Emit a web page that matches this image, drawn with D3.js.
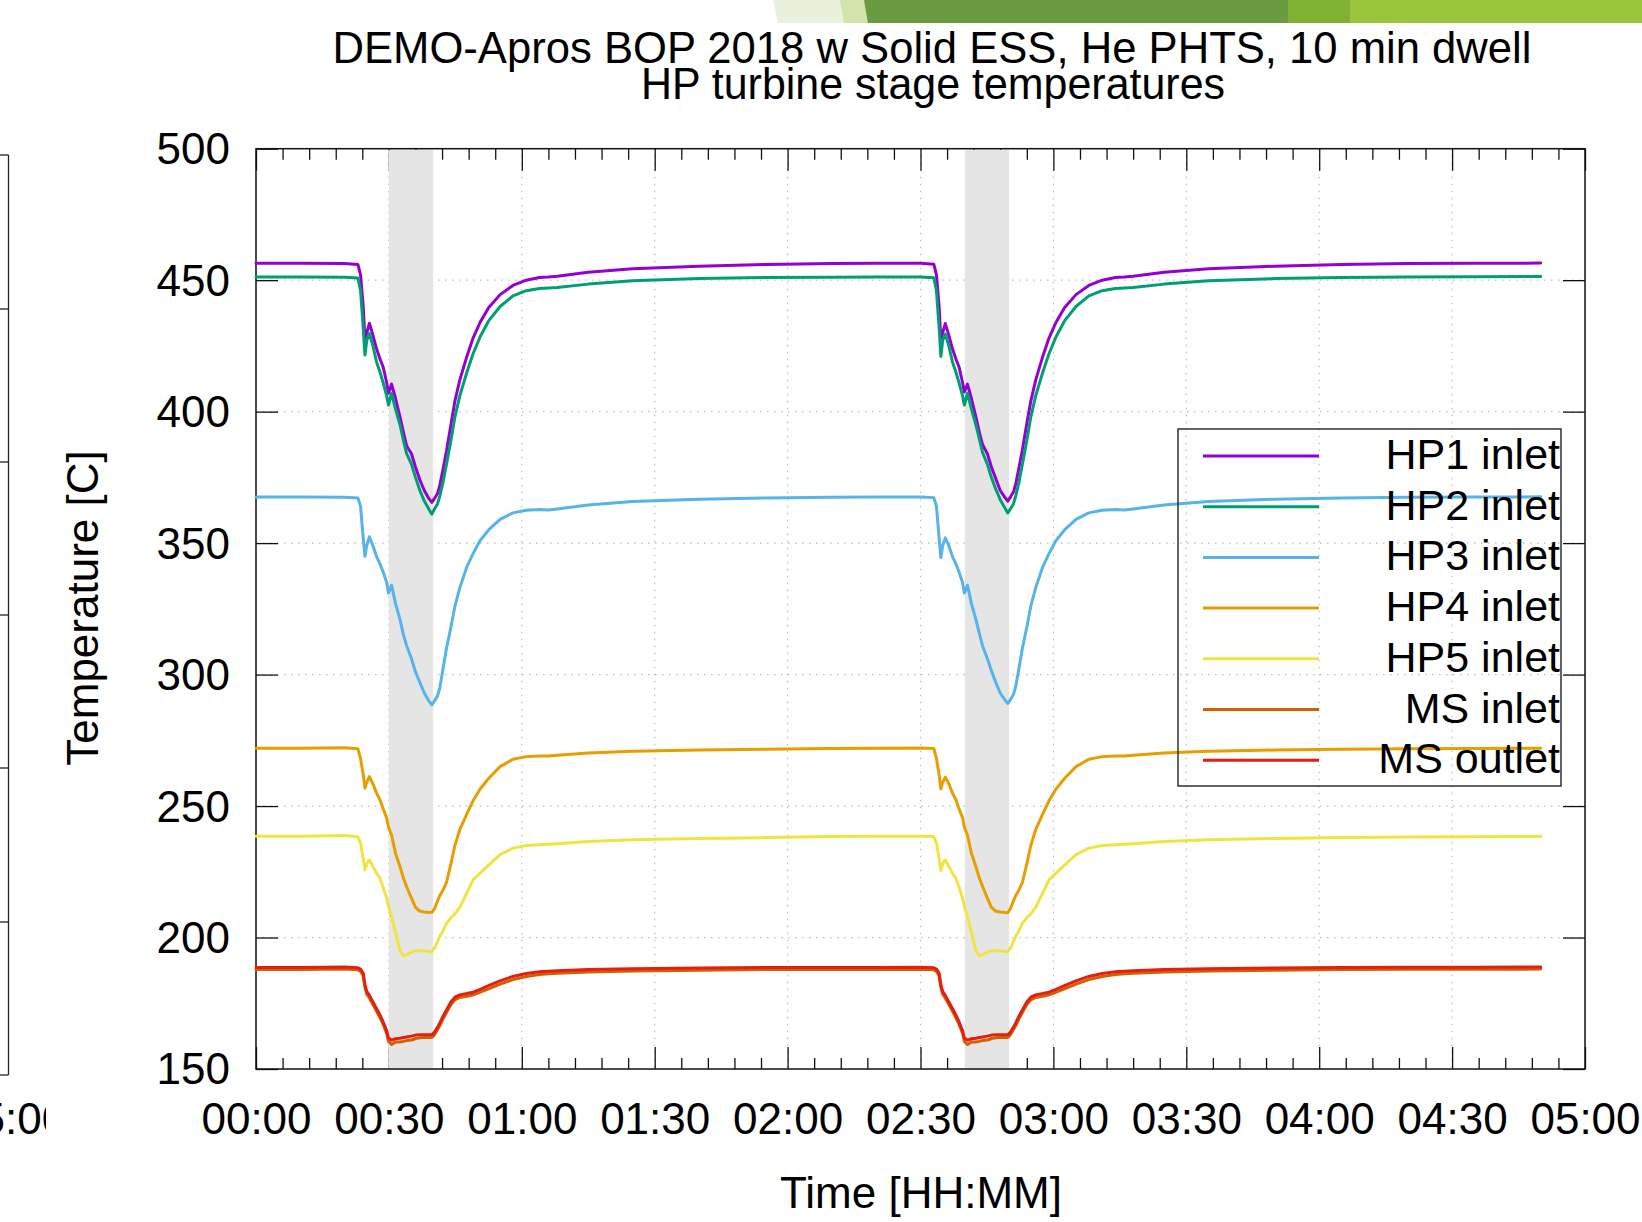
<!DOCTYPE html>
<html><head><meta charset="utf-8">
<script src="https://cdn.jsdelivr.net/npm/d3@7/dist/d3.min.js"></script>
<style>
body{margin:0;background:#fff;}
svg{display:block;}
text{font-family:"Liberation Sans",Arial,Helvetica,sans-serif;fill:#000;}
</style>
</head><body>
<svg id="chart" width="1642" height="1222"></svg>
<script>
// ---------------- DATA ----------------
const timeMin = [
 0,10,20,23,23.6,24.2,24.6,25.0,25.6,26.4,27.2,28.0,28.7,29.5,29.9,30.6,31.5,32.5,33.3,34.0,35.1,36.0,37.0,38.0,
 39.0,39.7,40.3,41.0,41.5,42.2,43.0,44.0,44.9,46.0,47.6,49.0,50.6,52.5,55.1,58,61,64,66,68,75,85,100,115,
 130,140,150,153,153.6,154.2,154.6,155.0,155.6,156.4,157.2,158.0,158.7,159.5,159.9,160.6,161.5,162.5,163.3,164.0,165.1,166.0,167.0,168.0,
 169.0,169.7,170.3,171.0,171.5,172.2,173.0,174.0,174.9,176.0,177.6,179.0,180.6,182.5,185.1,188,191,194,196,198,205,215,230,245,260,275,290
];
const hp1Inlet = [
 456.4,456.4,456.3,456.0,452,440,427,430,433.6,429,424,420,417,411,407,410.5,405,398,392,387,384,379,374,370,
 367,365.5,367,369,372,378,385,395,404,412,421,428,434,439.5,444.5,448,450,451,451.2,451.5,453,454.3,455.3,456,
 456.3,456.4,456.4,456.1,452,440,427,430,433.5,429,424,420,417,411,407.5,410.5,405,398,392,387.5,384,379,374.5,370,
 367.5,366,367.5,369.5,372.5,378.5,385.5,395.5,404,412,421,428,434,439.5,444.5,448,450,451,451.2,451.5,453,454.3,455.3,456,456.3,456.4,456.5
];
const hp2Inlet = [
 451.2,451.2,451.1,450.8,446,432,421.5,427,429.8,425,419,415,411,406,402.5,407,401,395,389,384,380,375,370,366,
 363,361,363,365,368,373,380,389,398,406,415,422,428.5,434.5,440,444,446,446.8,447,447.2,448.5,449.8,450.6,451,
 451.1,451.2,451.2,450.9,446,432,421,427,429.5,425,419,415,411,406,402.5,407,401,395,389.5,384.5,380,375,370.5,366.5,
 363.5,361.5,363,365,368,373,380,389,398,406,415,422,428.5,434.5,440,444,446,446.8,447,447.2,448.5,449.8,450.6,451,451.2,451.3,451.4
];
const hp3Inlet = [
 367.5,367.5,367.4,367.2,364,352,345,349,352.4,349,345,342,339,335,331,334,327,321,315,311,306,301,297,293,
 290,288.5,290,292,295,302,310,318,326,333,341,346,351,355,359,361.5,362.5,362.8,362.6,363,364.5,365.8,366.7,367.2,
 367.4,367.5,367.5,367.3,364,352,344.5,349,352,349,345,342,339,335,331,334,327,321,315.5,311,306,301.5,297,293,
 290.5,289,290.5,292.5,295.5,302,310,318,326,333,341,346,351,355,359,361.5,362.5,362.8,362.6,363,364.5,365.8,366.7,367.2,367.4,367.5,367.6
];
const hp4Inlet = [
 272,272,272.2,271.8,268,262,256.8,259,261.2,258.5,255,252.3,249,245.5,242,239,232,227,222.5,219.3,215,211.5,210,209.7,
 209.5,209.6,211,214,216,218,221,228,235,241,247,252,256.5,260.5,265,267.8,268.8,269,269,269.3,270.2,270.8,271.3,271.6,
 271.9,272,272.1,271.9,268,262,256.5,259,261,258.5,255,252.3,249,245.5,242,239,232,227,222.5,219.5,215,211.5,210,209.7,
 209.5,209.4,211,214,216,218,221,228,235,241,247,252,256.5,260.5,265,267.8,268.8,269,269,269.3,270.2,270.8,271.3,271.6,271.8,271.9,272
];
const hp5Inlet = [
 238.5,238.5,238.8,238.3,236,230,225.7,228,229.5,227,224.5,222.5,219,215,212,208,202,195,193,193.5,194.5,195,195,195,
 194.7,194.6,196,198.5,200.5,202.5,205.4,207.5,209,211.5,217,221.9,224.5,227.5,231.5,234,235,235.3,235.5,235.7,236.5,237.2,237.7,238,
 238.4,238.5,238.5,238.4,236,230,225.5,228,229.5,227,224.5,222.5,219,215,212,208,202,195,193,193.5,194.5,195,195,195,
 194.7,194.6,196,198.5,200.5,202.5,205.4,207.5,209,211.5,217,221.9,224.5,227.5,231.5,234,235,235.3,235.5,235.7,236.5,237.2,237.7,238,238.2,238.3,238.4
];
const msInlet = [
 187.8,187.8,188,187.7,187.2,185.5,181,178.5,177,174.5,172,169.5,167,163.5,160.5,159.3,160.3,160.3,160.5,160.8,161,161.6,161.9,162,
 162,162,163,165,166.5,169,171.5,174.5,176.3,177.2,177.7,178.2,179.2,180.5,182.3,184,185.2,185.9,186.2,186.4,186.9,187.3,187.6,187.8,
 187.8,187.8,187.9,187.7,187.2,185.5,181,178.5,177,174.5,172,169.5,167,163.5,160.5,159.3,160.3,160.3,160.5,160.8,161,161.6,161.9,162,
 162,162,163,165,166.5,169,171.5,174.5,176.3,177.2,177.7,178.2,179.2,180.5,182.3,184,185.2,185.9,186.2,186.4,186.9,187.3,187.6,187.8,187.9,187.9,188
];
const msOutlet = [
 188.6,188.6,188.8,188.5,188,186.5,182,179.5,178,175.5,173,170.5,168,164.5,161.8,161,161.5,161.7,162,162.2,162.5,162.9,163,163,
 163,163,164,166,167.5,170,172.5,175.5,177.3,178.2,178.7,179.2,180.3,181.7,183.5,185.2,186.3,187,187.2,187.4,187.8,188.1,188.4,188.6,
 188.6,188.6,188.7,188.5,188,186.5,182,179.5,178,175.5,173,170.5,168,164.5,161.8,161,161.5,161.7,162,162.2,162.5,162.9,163,163,
 163,163,164,166,167.5,170,172.5,175.5,177.3,178.2,178.7,179.2,180.3,181.7,183.5,185.2,186.3,187,187.2,187.4,187.8,188.1,188.4,188.6,188.7,188.7,188.8
];
const seriesNames  = ["HP1 inlet","HP2 inlet","HP3 inlet","HP4 inlet","HP5 inlet","MS inlet","MS outlet"];
const seriesValues = [hp1Inlet,hp2Inlet,hp3Inlet,hp4Inlet,hp5Inlet,msInlet,msOutlet];
const seriesColors = ["#9400d3","#009e73","#56b4e9","#e69f00","#f0e442","#d55e00","#e51e10"];
const dwellStart = [30,160];
const dwellEnd   = [40,170];
const xTickValues = [0,30,60,90,120,150,180,210,240,270,300];
const xTickLabels = ["00:00","00:30","01:00","01:30","02:00","02:30","03:00","03:30","04:00","04:30","05:00"];
const yTickValues = [150,200,250,300,350,400,450,500];
const titleLines = ["DEMO-Apros BOP 2018 w Solid ESS, He PHTS, 10 min dwell","HP turbine stage temperatures"];
const xAxisTitle = "Time [HH:MM]";
const yAxisTitle = "Temperature [C]";

// ---------------- LAYOUT ----------------
const svg = d3.select("#chart");
const P = {left:256, right:1585, top:148.7, bottom:1069};
const x = d3.scaleLinear().domain([0,300]).range([P.left,P.right]);
const y = d3.scaleLinear().domain([150,500]).range([P.bottom,P.top]);
const FS = 44;

svg.append("rect").attr("width",1642).attr("height",1222).attr("fill","#fff");

// decorative slide banner (top right)
const banner = [
  {pts:[[773,0],[842,0],[846,23],[778,23]], c:"#e9f1dc"},
  {pts:[[840,0],[866,0],[870,23],[844,23]], c:"#d2e4ac"},
  {pts:[[864,0],[1289,0],[1289,23],[868,23]], c:"#6a9a42"},
  {pts:[[1288,0],[1351,0],[1351,23],[1288,23]], c:"#80b133"},
  {pts:[[1350,0],[1642,0],[1642,23],[1350,23]], c:"#99c53d"}
];
svg.selectAll("polygon.banner").data(banner).join("polygon").attr("class","banner")
  .attr("points",d=>d.pts.map(p=>p.join(",")).join(" ")).attr("fill",d=>d.c);

// neighbouring chart fragment at left edge
const frag = svg.append("g");
frag.append("line").attr("x1",8.5).attr("x2",8.5).attr("y1",155).attr("y2",1075).attr("stroke","#222").attr("stroke-width",1.3);
const fragTicks = [155,309,462,615,768,922,1075];
frag.selectAll("line.ft").data(fragTicks).join("line").attr("class","ft")
  .attr("x1",0).attr("x2",8.5).attr("y1",d=>d).attr("y2",d=>d).attr("stroke","#222").attr("stroke-width",1.3);
svg.append("clipPath").attr("id","fragclip").append("rect").attr("x",0).attr("y",1080).attr("width",46).attr("height",80);
svg.append("text").attr("clip-path","url(#fragclip)").attr("x",-44).attr("y",1134)
  .attr("font-size",FS).text("05:00");

// titles
svg.append("text").attr("x",932).attr("y",63).attr("text-anchor","middle").attr("font-size",45)
  .attr("textLength",1199).attr("lengthAdjust","spacingAndGlyphs").text(titleLines[0]);
svg.append("text").attr("x",933).attr("y",99).attr("text-anchor","middle").attr("font-size",45)
  .attr("textLength",584).attr("lengthAdjust","spacingAndGlyphs").text(titleLines[1]);

// grid
const grid = svg.append("g").attr("stroke","#bdbdbd").attr("stroke-width",1.2).attr("stroke-dasharray","1.5,5.5");
grid.selectAll("line.gx").data(xTickValues.filter(v=>v>0&&v<300)).join("line").attr("class","gx")
  .attr("x1",d=>x(d)).attr("x2",d=>x(d)).attr("y1",P.top).attr("y2",P.bottom);
grid.selectAll("line.gy").data(yTickValues.filter(v=>v>150&&v<500)).join("line").attr("class","gy")
  .attr("x1",P.left).attr("x2",P.right).attr("y1",d=>y(d)).attr("y2",d=>y(d));

// axes / ticks
const xMinor = d3.range(0,301,6).filter(v=>v%30!==0);
function styleAxis(g){ g.select(".domain").remove(); g.selectAll(".tick line").attr("stroke","#111").attr("stroke-width",1.3); }
svg.append("g").attr("transform",`translate(0,${P.bottom})`)
  .call(d3.axisBottom(x).tickValues(xTickValues).tickSize(-22).tickFormat((d,i)=>xTickLabels[i]))
  .call(styleAxis)
  .call(g=>g.selectAll("text").attr("y",65).attr("dy",null).attr("font-size",FS).attr("font-family",null).attr("fill","#000"));
svg.append("g").attr("transform",`translate(0,${P.bottom})`)
  .call(d3.axisBottom(x).tickValues(xMinor).tickSize(-11).tickFormat("")).call(styleAxis);
svg.append("g").attr("transform",`translate(0,${P.top})`)
  .call(d3.axisTop(x).tickValues(xTickValues).tickSize(-22).tickFormat("")).call(styleAxis);
svg.append("g").attr("transform",`translate(0,${P.top})`)
  .call(d3.axisTop(x).tickValues(xMinor).tickSize(-11).tickFormat("")).call(styleAxis);
svg.append("g").attr("transform",`translate(${P.left},0)`)
  .call(d3.axisLeft(y).tickValues(yTickValues).tickSize(-22).tickFormat(d3.format("d")))
  .call(styleAxis)
  .call(g=>g.selectAll("text").attr("x",-26).attr("dy","0.34em").attr("font-size",FS).attr("font-family",null).attr("fill","#000"));
svg.append("g").attr("transform",`translate(${P.right},0)`)
  .call(d3.axisRight(y).tickValues(yTickValues).tickSize(-22).tickFormat("")).call(styleAxis);

// dwell shading
svg.selectAll("rect.dwell").data(dwellStart).join("rect").attr("class","dwell")
  .attr("x",d=>x(d)).attr("width",(d,i)=>x(dwellEnd[i])-x(d))
  .attr("y",P.top+1).attr("height",P.bottom-P.top-1).attr("fill","#e5e5e5");

// border
svg.append("rect").attr("x",P.left).attr("y",P.top).attr("width",P.right-P.left).attr("height",P.bottom-P.top)
  .attr("fill","none").attr("stroke","#111").attr("stroke-width",1.5);

// series lines
const line = d3.line().x((d,i)=>x(timeMin[i])).y(d=>y(d));
svg.append("g").selectAll("path").data(seriesValues).join("path")
  .attr("d",d=>line(d)).attr("fill","none")
  .attr("stroke",(d,i)=>seriesColors[i]).attr("stroke-width",3)
  .attr("stroke-linejoin","round").attr("stroke-linecap","round");

// legend
const L = {x:1178, y:429, w:383, h:357, first:456, step:50.7};
svg.append("rect").attr("x",L.x).attr("y",L.y).attr("width",L.w).attr("height",L.h)
  .attr("fill","none").attr("stroke","#222").attr("stroke-width",1.4);
const leg = svg.append("g").selectAll("g").data(seriesNames).join("g")
  .attr("transform",(d,i)=>`translate(0,${L.first+i*L.step})`);
leg.append("line").attr("x1",1203).attr("x2",1319).attr("y1",0).attr("y2",0)
  .attr("stroke",(d,i)=>seriesColors[i]).attr("stroke-width",3);
leg.append("text").attr("x",1560).attr("y",13).attr("text-anchor","end").attr("font-size",43).text(d=>d);

// axis titles
svg.append("text").attr("x",921).attr("y",1208).attr("text-anchor","middle").attr("font-size",FS).text(xAxisTitle);
svg.append("text").attr("transform","translate(98,608) rotate(-90)").attr("text-anchor","middle").attr("font-size",FS).text(yAxisTitle);
</script>
</body></html>
